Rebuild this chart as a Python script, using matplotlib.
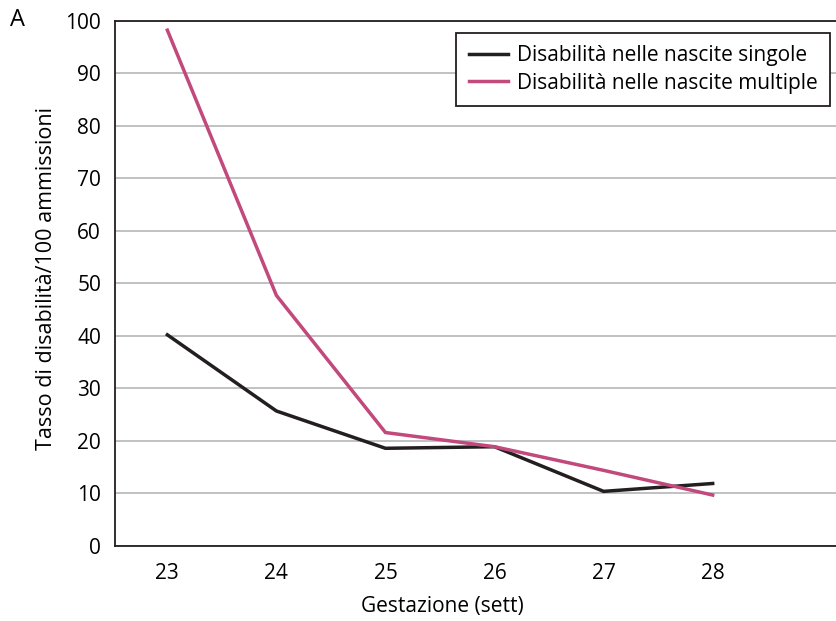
import matplotlib
matplotlib.use("Agg")
import matplotlib.pyplot as plt

weeks = [23, 24, 25, 26, 27, 28]
single = [40.2, 25.7, 18.6, 18.9, 10.4, 11.9]
multiple = [98.2, 47.7, 21.6, 18.9, 14.4, 9.7]
yticks = [0, 10, 20, 30, 40, 50, 60, 70, 80, 90, 100]

plt.rcParams['font.family'] = ['Open Sans', 'DejaVu Sans']

fig = plt.figure(figsize=(8.37, 6.21), dpi=100)
ax = fig.add_axes([115 / 837, 1 - 546 / 621, 1 - 115 / 837, (546 - 20.7) / 621])

ax.plot(weeks, single, color='#231f20', linewidth=2.5, label='Disabilità nelle nascite singole',
        solid_joinstyle='miter', zorder=3)
ax.plot(weeks, multiple, color='#c2497c', linewidth=2.5, label='Disabilità nelle nascite multiple',
        solid_joinstyle='miter', zorder=3)

ax.set_xlim(22.52, 29.14)
ax.set_ylim(0, 100)
ax.set_xticks(weeks)
ax.set_yticks(yticks)
ax.tick_params(length=0, labelsize=15, pad=10)
ax.tick_params(axis='x', pad=12)
ax.yaxis.grid(True, color='#bfc1c3', linewidth=1.4)
ax.set_axisbelow(True)

for side in ['left', 'bottom', 'top']:
    ax.spines[side].set_linewidth(1.3)
    ax.spines[side].set_color('#231f20')
ax.spines['right'].set_visible(False)

ax.set_xlabel('Gestazione (sett)', fontsize=15)
ax.xaxis.set_label_coords(0.454, -0.095)
ax.set_ylabel('Tasso di disabilità/100 ammissioni', fontsize=15.5)
ax.yaxis.set_label_coords(-0.08, 0.51)

fig.text(18 / 837, 1 - 20 / 621, 'A', fontsize=17, va='center', ha='center')

lgd = ax.legend(loc='upper right', bbox_to_anchor=(0.990, 0.977), fancybox=False, fontsize=15,
                edgecolor='#231f20', handlelength=1.9, borderpad=0.6, labelspacing=0.3,
                handletextpad=0.4, borderaxespad=0)
lgd.get_frame().set_linewidth(1.3)
lgd.get_frame().set_alpha(1)

plt.savefig('out.png', dpi=100)
